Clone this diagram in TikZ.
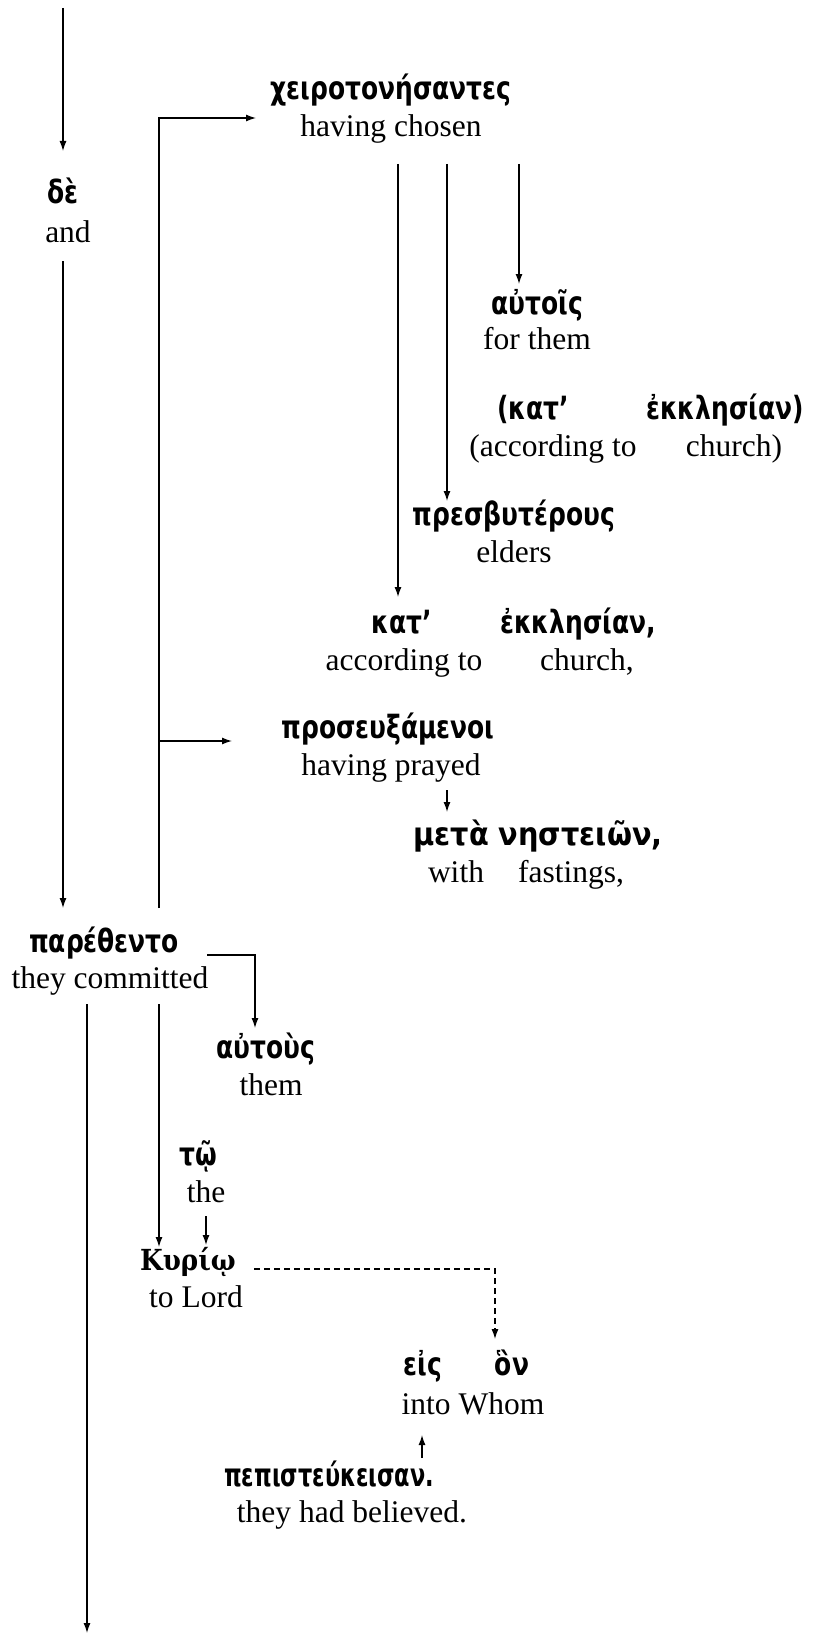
\documentclass[tikz,border=0pt]{standalone}
\usepackage{fontspec}
\setmainfont{Liberation Serif}
\newfontfamily\gkfont[FakeStretch=0.78]{DejaVu Sans}
\newfontfamily\gknarrow[FakeStretch=0.70]{DejaVu Sans}
\newfontfamily\gkwide[FakeStretch=0.90]{DejaVu Sans}
\newfontfamily\gkserif[FakeStretch=0.9]{DejaVu Serif}
\usetikzlibrary{arrows.meta}
\tikzset{
  en/.style={font=\fontsize{31.5}{36}\selectfont, inner sep=0pt, text height=22pt, text depth=7pt},
  gk/.style={font=\fontsize{32}{36}\gkfont\bfseries, inner sep=0pt, text height=22pt, text depth=7pt},
  gkn/.style={font=\fontsize{32}{36}\gknarrow\bfseries, inner sep=0pt, text height=22pt, text depth=7pt},
  gkw/.style={font=\fontsize{32}{36}\gkwide\bfseries, inner sep=0pt, text height=22pt, text depth=7pt},
  gks/.style={font=\fontsize{29}{34}\gkserif\bfseries, inner sep=0pt, text height=22pt, text depth=7pt},
  arr/.style={line width=1.3pt, -{Latex[length=10pt,width=7pt]}},
  dsh/.style={line width=1.2pt, dash pattern=on 6pt off 4pt, -{Latex[length=10pt,width=7pt]}},
}
\begin{document}
\begin{tikzpicture}[x=1pt,y=-1pt]
\useasboundingbox (0,0) rectangle (813,1637);
% text nodes
\node[gk] (gde) at (63,196) {δὲ};
\node[en] (ede) at (68,235) {and};
\node[gk] (gchei) at (391,92) {χειροτονήσαντες};
\node[en] (echei) at (391,129) {having chosen};
\node[gk] (gaut1) at (537,307) {αὐτοῖς};
\node[en] (eaut1) at (537,342) {for them};
\node[gk] (gkat2a) at (533,412) {(κατ’};
\node[gk] (gkat2b) at (725,412) {ἐκκλησίαν)};
\node[en] (ekat2a) at (553,449) {(according to};
\node[en] (ekat2b) at (734,449) {church)};
\node[gk] (gpres) at (514,518) {πρεσβυτέρους};
\node[en] (epres) at (514,555) {elders};
\node[gk] (gkat1a) at (402,626) {κατ’};
\node[gk] (gkat1b) at (578,626) {ἐκκλησίαν,};
\node[en] (ekat1a) at (404,663) {according to};
\node[en] (ekat1b) at (587,663) {church,};
\node[gk] (gpros) at (388,731) {προσευξάμενοι};
\node[en] (epros) at (391,768) {having prayed};
\node[gkw] (gmeta) at (538,838) {μετὰ νηστειῶν,};
\node[en] (emeta1) at (456,875) {with};
\node[en] (emeta2) at (571,875) {fastings,};
\node[gk] (gpar) at (104,945) {παρέθεντο};
\node[en] (epar) at (110,981) {they committed};
\node[gk] (gaut2) at (266,1051) {αὐτοὺς};
\node[en] (eaut2) at (271,1088) {them};
\node[gk] (gtw) at (198,1158) {τῷ};
\node[en] (etw) at (206,1195) {the};
\node[gks] (gkur) at (188,1263) {Κυρίῳ};
\node[en] (ekur) at (196,1300) {to Lord};
\node[gk] (geis) at (423,1368) {εἰς};
\node[gk] (gon) at (512,1368) {ὃν};
\node[en] (eeis) at (473,1407) {into Whom};
\node[gkn] (gpep) at (329,1479) {πεπιστεύκεισαν.};
\node[en] (epep) at (352,1515) {they had believed.};
% connector end points
\coordinate (a1s) at (63,8);   \coordinate (a1e) at (63,151);
\coordinate (a2s) at (63,261); \coordinate (a2e) at (63,908);
\coordinate (b0) at (159,908); \coordinate (b1) at (256,118);
\coordinate (bb0) at (159,741); \coordinate (bb1) at (232,741);
\coordinate (c1s) at (398,164); \coordinate (c1e) at (398,597);
\coordinate (c2s) at (447,164); \coordinate (c2e) at (447,501);
\coordinate (c3s) at (519,164); \coordinate (c3e) at (519,284);
\coordinate (ds) at (447,790); \coordinate (de) at (447,812);
\coordinate (es) at (207,955); \coordinate (ee) at (255,1028);
\coordinate (fs) at (159,1004); \coordinate (fe) at (159,1247);
\coordinate (gs) at (87,1004); \coordinate (ge) at (87,1633);
\coordinate (hs) at (206,1216); \coordinate (he) at (206,1245);
\coordinate (is) at (254,1269); \coordinate (ie) at (495,1339);
\coordinate (js) at (422,1458); \coordinate (je) at (422,1435);
% connectors
\draw[arr] (a1s) -- (a1e);
\draw[arr] (a2s) -- (a2e);
\draw[arr] (b0) |- (b1);
\draw[arr] (bb0) -- (bb1);
\draw[arr] (c1s) -- (c1e);
\draw[arr] (c2s) -- (c2e);
\draw[arr] (c3s) -- (c3e);
\draw[arr] (ds) -- (de);
\draw[arr] (es) -| (ee);
\draw[arr] (fs) -- (fe);
\draw[arr] (gs) -- (ge);
\draw[arr] (hs) -- (he);
\draw[dsh] (is) -| (ie);
\draw[arr] (js) -- (je);
\end{tikzpicture}
\end{document}
